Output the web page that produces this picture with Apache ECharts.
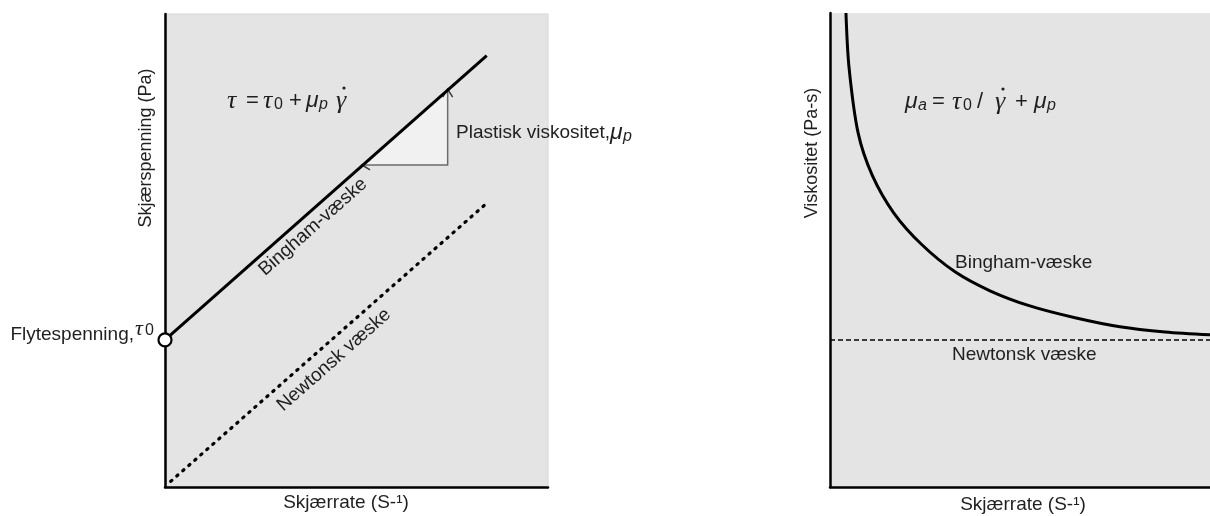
<!DOCTYPE html>
<html>
<head>
<meta charset="utf-8">
<script src="https://cdn.jsdelivr.net/npm/echarts@6/dist/echarts.min.js"></script>
<style>
  html, body { margin: 0; padding: 0; background: #ffffff; }
  #chart { width: 1210px; height: 516px; }
</style>
</head>
<body>
<div id="chart"></div>
<script>
// Left panel: shear stress against shear rate (both axes in relative units 0–100)
const binghamStress = [[0, 31.1], [84.0, 91.2]];
const newtonStress = [[1.5, 1.2], [84.0, 60.0]];
const yieldPoint = [[0, 31.1]];
// Slope triangle: horizontal run and vertical rise along the Bingham line
const slopeRun = [51.7, 73.8];
const slopeRise = [68.1, 83.9];

// Right panel: apparent viscosity against shear rate
const binghamViscosity = [
  [4.2, 100.0], [5.0, 88.6], [7.4, 74.7], [11.1, 65.8], [16.8, 57.8],
  [24.2, 51.1], [32.9, 45.4], [42.1, 41.4], [52.6, 38.2], [64.5, 35.7],
  [76.3, 33.8], [88.2, 32.7], [100.0, 32.1]
];
const newtonViscosity = [[0, 31.0], [100, 31.0]];

const SANS = '"Liberation Sans", Arial, sans-serif';
const SERIF = '"Liberation Serif", "DejaVu Serif", serif';
const INK = '#1f1f1f';

// glyph styles used in the formulas
const KIND = {
  n:  { font: SANS,  style: 'normal', size: 22, dy: 0 },
  g:  { font: SERIF, style: 'italic', size: 26, dy: 0 },
  m:  { font: SANS,  style: 'italic', size: 23, dy: 0 },
  s:  { font: SANS,  style: 'normal', size: 16, dy: 4 },
  si: { font: SANS,  style: 'italic', size: 16, dy: 4 }
};

// a formula drawn token by token: [x, text, kind]; dots mark a time derivative
function formula(y, tokens, dots) {
  const out = tokens.map(([x, t, k]) => ({
    type: 'text', x: x, y: y + KIND[k].dy, silent: true, z: 100,
    style: {
      text: t, fontFamily: KIND[k].font, fontStyle: KIND[k].style,
      fontSize: KIND[k].size, fill: INK, align: 'left', verticalAlign: 'middle'
    }
  }));
  (dots || []).forEach(([x, yy]) => out.push({
    type: 'circle', silent: true, z: 100, shape: { cx: x, cy: yy, r: 1.6 }, style: { fill: INK }
  }));
  return out;
}

function label(x, y, text, extra) {
  extra = extra || {};
  const el = {
    type: 'text', x: x, y: y, silent: true, z: 100,
    style: Object.assign({
      text: text, fontFamily: SANS, fontSize: 19, fill: INK,
      align: 'center', verticalAlign: 'middle'
    }, extra.style || {})
  };
  if (extra.rotation !== undefined) el.rotation = extra.rotation;
  return el;
}

const slope = 0.7226; // text angle along the rising lines (rad)

const plainAxis = (gridIndex, position) => ({
  type: 'value', gridIndex: gridIndex, min: 0, max: 100, position: position,
  axisLine: { show: true, onZero: false, lineStyle: { color: '#000', width: 2.5 } },
  axisTick: { show: false }, axisLabel: { show: false }, splitLine: { show: false }
});

const chart = echarts.init(document.getElementById('chart'), null, { renderer: 'canvas' });

chart.setOption({
  animation: false,
  backgroundColor: '#ffffff',
  grid: [
    { left: 165, top: 14, width: 383, height: 473, show: true, backgroundColor: '#e4e4e4', borderWidth: 1, borderColor: '#d6d6d6' },
    { left: 830, top: 13, width: 380, height: 474, show: true, backgroundColor: '#e4e4e4', borderWidth: 0 }
  ],
  xAxis: [plainAxis(0, 'bottom'), plainAxis(1, 'bottom')],
  yAxis: [plainAxis(0, 'left'), plainAxis(1, 'left')],
  series: [
    {
      type: 'custom', xAxisIndex: 0, yAxisIndex: 0, z: 2, silent: true,
      data: [[slopeRun[0], slopeRise[0], slopeRun[1], slopeRise[1]]],
      encode: { x: [0, 2], y: [1, 3] },
      renderItem: function (params, api) {
        const p0 = api.coord([api.value(0), api.value(1)]);
        const p1 = api.coord([api.value(2), api.value(1)]);
        const p2 = api.coord([api.value(2), api.value(3)]);
        return {
          type: 'group',
          children: [
            { type: 'polygon', shape: { points: [p0, p1, p2] }, style: { fill: '#f1f1f1', stroke: 'none' } },
            { type: 'polyline', shape: { points: [p0, p1, p2] }, style: { stroke: '#6b6b6b', lineWidth: 1.5, fill: 'none' } },
            { type: 'polyline', shape: { points: [[p2[0] - 5, p2[1] + 7], [p2[0], p2[1] - 1], [p2[0] + 5, p2[1] + 7]] }, style: { stroke: '#3a3a3a', lineWidth: 1.5, fill: 'none' } },
            { type: 'polyline', shape: { points: [[p0[0] + 7, p0[1] - 5], [p0[0] - 1, p0[1]], [p0[0] + 7, p0[1] + 5]] }, style: { stroke: '#3a3a3a', lineWidth: 1.5, fill: 'none' } }
          ]
        };
      }
    },
    {
      name: 'Bingham-væske', type: 'line', xAxisIndex: 0, yAxisIndex: 0, z: 3,
      data: binghamStress, symbol: 'none', silent: true,
      lineStyle: { color: '#000', width: 3 }
    },
    {
      name: 'Newtonsk væske', type: 'line', xAxisIndex: 0, yAxisIndex: 0, z: 3,
      data: newtonStress, symbol: 'none', silent: true,
      lineStyle: { color: '#000', width: 3.2, type: [1.5, 6.5], cap: 'round' }
    },
    {
      name: 'Flytespenning', type: 'scatter', xAxisIndex: 0, yAxisIndex: 0, z: 10, clip: false,
      data: yieldPoint, symbol: 'circle', symbolSize: 13, silent: true,
      itemStyle: { color: '#ffffff', borderColor: '#000', borderWidth: 2.2, opacity: 1 }
    },
    {
      name: 'Bingham-væske', type: 'line', xAxisIndex: 1, yAxisIndex: 1, z: 3,
      data: binghamViscosity, symbol: 'none', smooth: 0.3, silent: true,
      lineStyle: { color: '#000', width: 3 }
    },
    {
      name: 'Newtonsk væske', type: 'line', xAxisIndex: 1, yAxisIndex: 1, z: 3,
      data: newtonViscosity, symbol: 'none', silent: true,
      lineStyle: { color: '#000', width: 1.6, type: [5, 3] }
    }
  ],
  graphic: [
    // left panel
    label(146, 148, 'Skjærspenning (Pa)', { rotation: Math.PI / 2, style: { fontSize: 18 } }),
    label(346, 503, 'Skjærrate (S-¹)'),
    label(134, 335, 'Flytespenning,', { style: { align: 'right' } }),
    ...formula(329, [[135, 'τ', 'g'], [145, '0', 'n']]).map((e, i) => {
      if (i === 0) { e.style.fontSize = 22; }
      if (i === 1) { e.y = 331; e.style.fontSize = 16; }
      return e;
    }),
    ...formula(101, [
      [227, 'τ', 'g'], [246, '=', 'n'], [263, 'τ', 'g'], [274, '0', 's'],
      [289, '+', 'n'], [306, 'μ', 'm'], [319, 'p', 'si'], [336, 'γ', 'g']
    ], [[344, 88]]),
    label(456, 133, 'Plastisk viskositet,', { style: { align: 'left' } }),
    ...formula(133, [[610, 'μ', 'm'], [623, 'p', 'si']]),
    label(313, 227, 'Bingham-væske', { rotation: slope }),
    label(334, 360, 'Newtonsk væske', { rotation: slope }),
    // right panel
    label(812, 153, 'Viskositet (Pa-s)', { rotation: Math.PI / 2, style: { fontSize: 18 } }),
    label(1023, 505, 'Skjærrate (S-¹)'),
    ...formula(102, [
      [905, 'μ', 'm'], [918, 'a', 'si'], [932, '=', 'n'], [952, 'τ', 'g'], [963, '0', 's'],
      [977, '/', 'n'], [995, 'γ', 'g'], [1015, '+', 'n'], [1034, 'μ', 'm'], [1047, 'p', 'si']
    ], [[1003, 89]]),
    label(955, 263, 'Bingham-væske', { style: { align: 'left' } }),
    label(952, 355, 'Newtonsk væske', { style: { align: 'left' } })
  ]
});
</script>
</body>
</html>
